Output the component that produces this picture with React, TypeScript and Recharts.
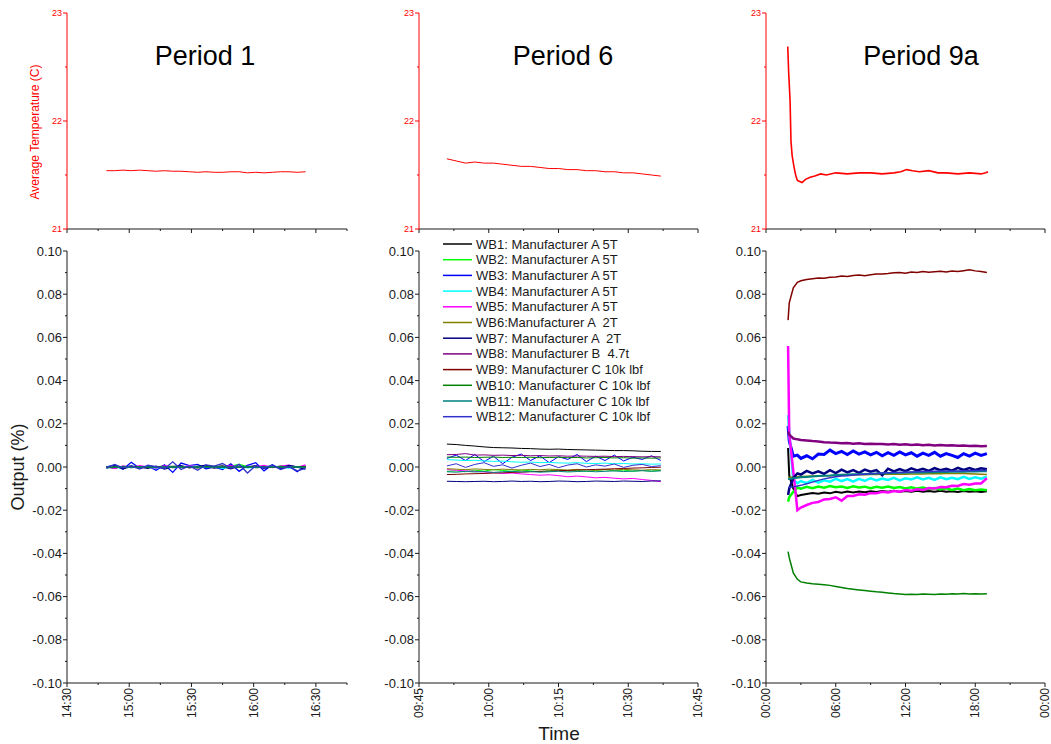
import React from "react";
import { Line, LineChart, XAxis, YAxis } from "recharts";

// ---- series / legend ----
const SERIES_NAMES = [
  "WB1: Manufacturer A 5T",
  "WB2: Manufacturer A 5T",
  "WB3: Manufacturer A 5T",
  "WB4: Manufacturer A 5T",
  "WB5: Manufacturer A 5T",
  "WB6:Manufacturer A  2T",
  "WB7: Manufacturer A  2T",
  "WB8: Manufacturer B  4.7t",
  "WB9: Manufacturer C 10k lbf",
  "WB10: Manufacturer C 10k lbf",
  "WB11: Manufacturer C 10k lbf",
  "WB12: Manufacturer C 10k lbf",
];
const SERIES_COLORS = [
  "#000000",
  "#00FF00",
  "#0000FF",
  "#00FFFF",
  "#FF00FF",
  "#808000",
  "#000080",
  "#800080",
  "#800000",
  "#008000",
  "#008080",
  "#3333CC",
];

const PERIOD_TITLES = ["Period 1", "Period 6", "Period 9a"];

// ---- ticks ----
const TEMP_TICKS = [21, 21.5, 22, 22.5, 23];
const TEMP_MAJOR = [21, 22, 23];
const OUTPUT_TICKS = [
  -0.1, -0.09, -0.08, -0.07, -0.06, -0.05, -0.04, -0.03, -0.02, -0.01, 0,
  0.01, 0.02, 0.03, 0.04, 0.05, 0.06, 0.07, 0.08, 0.09, 0.1,
];
const OUTPUT_MAJOR = [-0.1, -0.08, -0.06, -0.04, -0.02, 0, 0.02, 0.04, 0.06, 0.08, 0.1];

// period 1 / 6 in minutes after midnight, period 9a in hours
const P1_XTICKS = [870, 885, 900, 915, 930, 945, 960, 975, 990, 1005];
const P1_XMAJOR = [870, 900, 930, 960, 990];
const P2_XTICKS = [585, 592.5, 600, 607.5, 615, 622.5, 630, 637.5, 645];
const P2_XMAJOR = [585, 600, 615, 630, 645];
const P3_XTICKS = [0, 3, 6, 9, 12, 15, 18, 21, 24];
const P3_XMAJOR = [0, 6, 12, 18, 24];

// ---- Period 1 ----
const P1_TIME = [
  889, 893, 897, 901, 905, 909, 913, 917, 921, 925, 929, 933, 937, 941, 945,
  949, 953, 957, 961, 965, 969, 973, 977, 981, 985,
];
const P1_TEMP = [
  21.54, 21.54, 21.545, 21.54, 21.545, 21.54, 21.535, 21.54, 21.535, 21.535,
  21.53, 21.525, 21.53, 21.525, 21.525, 21.53, 21.53, 21.52, 21.525, 21.52,
  21.525, 21.53, 21.53, 21.525, 21.53,
];
const P1_OUTPUT = [
  [0, -0.0005, 0.0003, 0, -0.0004, 0.0002, 0, 0.0004, -0.0003, 0.0001, 0, -0.0004, 0.0003, 0, 0.0005, -0.0002, 0.0001, 0.0003, -0.0003, 0, 0.0002, -0.0004, 0.0001, 0.0002, 0],
  [-0.0003, 0.0002, -0.0001, 0.0004, 0, -0.0003, 0.0002, 0, 0.0003, -0.0002, 0.0001, 0.0003, -0.0001, 0.0002, 0, 0.0004, 0.0012, 0.0002, -0.0001, 0.0003, 0, 0.0002, 0.0004, 0.0001, 0.0003],
  [0, 0.0008, -0.001, 0.0022, -0.0006, 0.0004, -0.0015, 0.001, -0.0025, 0.0018, 0.0006, 0.0012, -0.0008, 0, -0.0012, 0.0015, -0.002, 0.0008, 0.002, -0.0018, 0.001, -0.001, 0.0004, -0.0022, 0.0006],
  [-0.0004, 0, -0.0006, 0.0003, -0.0002, 0, -0.0005, 0.0002, 0, -0.0003, 0.0004, 0, -0.0002, 0.0003, -0.0006, 0, 0.0002, -0.0004, 0, 0.0003, -0.0002, 0, -0.0005, 0.0002, 0],
  [0.0002, -0.0006, 0.0004, -0.0003, 0.0006, 0, -0.0004, 0.0005, 0.0002, -0.0002, 0.0006, 0, 0.0004, -0.0003, 0.0002, 0.0006, -0.0002, 0.0003, 0, 0.0007, -0.0003, 0.0004, 0.0008, -0.0002, 0.001],
  [-0.0002, 0.0001, -0.0003, 0, 0.0002, -0.0002, 0.0001, -0.0001, 0.0003, 0, -0.0002, 0.0002, 0, -0.0003, 0.0001, 0, 0.0002, -0.0002, 0.0001, 0, -0.0001, 0.0002, 0, -0.0002, 0.0001],
  [-0.0005, 0.0005, -0.0008, 0.0003, 0, -0.0006, 0.0004, -0.001, 0.0002, 0.0006, -0.0004, 0.0003, 0.0008, -0.0005, 0.0002, -0.0008, 0.0004, 0, 0.0006, -0.0006, 0.0003, -0.0004, 0.0007, 0, -0.001],
  [0.0001, -0.0002, 0.0003, 0, -0.0001, 0.0002, -0.0003, 0.0001, 0, 0.0003, -0.0002, 0.0001, 0.0002, -0.0001, 0, 0.0003, -0.0002, 0.0001, 0.0002, 0, -0.0001, 0.0003, 0, 0.0002, 0.0001],
  [0, 0.0002, -0.0002, 0.0001, -0.0001, 0.0002, 0, -0.0003, 0.0001, 0, 0.0002, -0.0001, 0, 0.0003, -0.0001, 0.0001, 0, -0.0002, 0.0002, 0, 0.0001, -0.0001, 0.0002, 0, 0.0002],
  [-0.0001, 0.0001, 0, -0.0002, 0.0002, 0, 0.0001, -0.0002, 0, 0.0002, -0.0001, 0, 0.0002, -0.0001, 0.0001, -0.0002, 0, 0.0002, -0.0001, 0.0001, 0, 0.0003, -0.0001, 0.0001, 0],
  [0.0002, -0.0001, 0.0001, -0.0003, 0, 0.0002, -0.0002, 0, 0.0001, -0.0001, 0.0003, 0, -0.0002, 0.0001, 0, -0.0001, 0.0002, 0, -0.0002, 0.0001, 0.0002, -0.0001, 0, 0.0001, -0.0002],
  [-0.0003, 0.0012, -0.0004, 0.0006, -0.001, 0.0008, 0.0002, -0.0008, 0.0024, -0.0012, 0.0005, -0.0015, 0.001, 0.0004, 0.0016, -0.0006, 0.0012, -0.0028, 0.0006, -0.0004, 0.001, -0.0012, 0.0002, -0.0018, -0.0006],
];

// ---- Period 6 ----
const P2_TIME = [
  591, 593, 595, 597, 599, 601, 603, 605, 607, 609, 611, 613, 615, 617, 619,
  621, 623, 625, 627, 629, 631, 633, 635, 637,
];
const P2_TEMP = [
  21.65, 21.63, 21.61, 21.62, 21.61, 21.61, 21.6, 21.59, 21.58, 21.58, 21.57,
  21.56, 21.56, 21.55, 21.55, 21.54, 21.54, 21.53, 21.53, 21.52, 21.52, 21.51,
  21.5, 21.49,
];
const P2_OUTPUT = [
  [0.0106, 0.0104, 0.01, 0.0097, 0.0093, 0.009, 0.0089, 0.0088, 0.0086, 0.0085, 0.0083, 0.0082, 0.0083, 0.0081, 0.008, 0.0079, 0.0078, 0.0077, 0.0076, 0.0076, 0.0075, 0.0073, 0.0072, 0.0072],
  [-0.002, -0.0018, -0.0022, -0.0015, -0.0019, -0.0012, -0.0016, -0.002, -0.0014, -0.0018, -0.0022, -0.0017, -0.0013, -0.0019, -0.0015, -0.0021, -0.0016, -0.0012, -0.0018, -0.0014, -0.002, -0.0016, -0.0019, -0.0015],
  [0.004, 0.0055, 0.003, 0.0058, 0.0025, 0.005, 0.0015, 0.0045, 0.006, 0.003, 0.0052, 0.002, 0.0048, 0.0035, 0.0058, 0.0025, 0.005, 0.003, 0.0055, 0.0028, 0.0045, 0.0035, 0.0052, 0.003],
  [0.0034, 0.0032, 0.003, 0.0031, 0.0028, 0.0026, 0.0027, 0.0024, 0.0022, 0.0023, 0.002, 0.0021, 0.0019, 0.0018, 0.002, 0.0017, 0.0016, 0.0018, 0.0015, 0.0016, 0.0014, 0.0015, 0.0013, 0.0014],
  [-0.0012, -0.0015, -0.0018, -0.002, -0.0023, -0.0026, -0.003, -0.0028, -0.0032, -0.0035, -0.0038, -0.0036, -0.004, -0.0045, -0.0042, -0.0046, -0.005, -0.0048, -0.0052, -0.0055, -0.0053, -0.0058, -0.0062, -0.0068],
  [-0.0008, -0.001, -0.0012, -0.0009, -0.0011, -0.0013, -0.001, -0.0012, -0.0014, -0.0011, -0.0013, -0.001, -0.0012, -0.0014, -0.0011, -0.0013, -0.0015, -0.0012, -0.0014, -0.0011, -0.0013, -0.0015, -0.0012, -0.0014],
  [-0.0066, -0.0067, -0.0068, -0.0067, -0.0066, -0.0068, -0.0067, -0.0065, -0.0067, -0.0066, -0.0068, -0.0067, -0.0065, -0.0066, -0.0068, -0.0067, -0.0065, -0.0066, -0.0067, -0.0065, -0.0066, -0.0067, -0.0065, -0.0064],
  [0.0057, 0.0058, 0.0062, 0.0055, 0.0056, 0.0054, 0.0055, 0.0053, 0.0054, 0.0052, 0.0053, 0.0051, 0.0052, 0.005, 0.0051, 0.005, 0.0049, 0.005, 0.0048, 0.0049, 0.0048, 0.0047, 0.0048, 0.0047],
  [-0.0035, -0.0034, -0.0032, -0.0031, -0.003, -0.0028, -0.0027, -0.0025, -0.0024, -0.0022, -0.002, -0.0019, -0.0017, -0.0016, -0.0014, -0.0013, -0.0011, -0.001, -0.0008, -0.0007, -0.0005, -0.0004, -0.0002, -0.0001],
  [0.0046, 0.0045, 0.0046, 0.0044, 0.0045, 0.0046, 0.0044, 0.0045, 0.0044, 0.0045, 0.0043, 0.0044, 0.0045, 0.0043, 0.0044, 0.0042, 0.0043, 0.0044, 0.0042, 0.0043, 0.0041, 0.0042, 0.0041, 0.0042],
  [-0.0022, -0.0024, -0.002, -0.0023, -0.0021, -0.0025, -0.0022, -0.002, -0.0023, -0.0021, -0.0024, -0.0022, -0.002, -0.0023, -0.0021, -0.0019, -0.0022, -0.002, -0.0018, -0.0021, -0.0019, -0.0017, -0.002, -0.0018],
  [0.0005, 0.0015, -0.0002, 0.0012, 0.002, 0.0003, 0.001, -0.0005, 0.0008, 0.0018, 0.0002, 0.0012, -0.0003, 0.0009, 0.0015, 0, 0.001, 0.0004, 0.0014, -0.0002, 0.0008, 0.0012, 0.0002, 0.0006],
];

// ---- Period 9a ----
const P3_TEMP_TIME = [
  1.87, 1.95, 2.07, 2.15, 2.25, 2.4, 2.55, 2.7, 2.9, 3.1, 3.4, 3.8, 4.2, 4.7,
  5.2, 6.0, 7.0, 8.0, 9.0, 10.0, 11.0, 11.6, 12.1, 12.6, 13.2, 14.0, 14.8,
  15.5, 16.5, 17.5, 18.5, 18.9, 19.1,
];
const P3_TEMP = [
  22.69, 22.45, 22.19, 21.81, 21.68, 21.58, 21.5, 21.45, 21.44, 21.43, 21.46,
  21.48, 21.49, 21.51, 21.5, 21.52, 21.51, 21.52, 21.52, 21.51, 21.52, 21.53,
  21.55, 21.54, 21.53, 21.54, 21.52, 21.52, 21.51, 21.52, 21.51, 21.52, 21.53,
];
const P3_TIME = [
  1.9, 2.0, 2.35, 2.7, 3.0, 3.5, 4.0, 4.5, 5.0, 5.5, 6.0, 6.5, 7.0, 7.5, 8.0,
  8.5, 9.0, 9.5, 10.0, 10.5, 11.0, 11.5, 12.0, 12.5, 13.0, 13.5, 14.0, 14.5,
  15.0, 15.5, 16.0, 16.5, 17.0, 17.5, 18.0, 18.5, 19.0,
];
const P3_OUTPUT = [
  [0.0088, -0.004, -0.01, -0.0135, -0.013, -0.0125, -0.012, -0.0124, -0.0118, -0.0122, -0.0115, -0.0119, -0.0114, -0.0118, -0.0113, -0.0117, -0.0112, -0.0116, -0.0111, -0.0115, -0.011, -0.0114, -0.0111, -0.0115, -0.011, -0.0114, -0.0111, -0.0115, -0.011, -0.0114, -0.0112, -0.0116, -0.0111, -0.0115, -0.0112, -0.0116, -0.0112],
  [-0.016, -0.014, -0.0115, -0.0095, -0.01, -0.0092, -0.0098, -0.009, -0.0096, -0.0088, -0.0094, -0.009, -0.0097, -0.0089, -0.0095, -0.0091, -0.0098, -0.0092, -0.0096, -0.009, -0.0097, -0.0093, -0.0099, -0.0094, -0.01, -0.0095, -0.0102, -0.0097, -0.0104, -0.0099, -0.0106, -0.01, -0.0107, -0.0102, -0.0108, -0.0104, -0.0108],
  [0.019, 0.012, 0.005, 0.0055, 0.004, 0.0052, 0.0038, 0.006, 0.0058, 0.0078, 0.0062, 0.0072, 0.0058, 0.0074, 0.006, 0.007, 0.0056, 0.0068, 0.0052, 0.0066, 0.0054, 0.007, 0.0056, 0.0066, 0.005, 0.0064, 0.0054, 0.0068, 0.005, 0.0062, 0.0054, 0.0044, 0.0062, 0.005, 0.0064, 0.0054, 0.0062],
  [0.024, 0.016, -0.006, -0.0075, -0.0065, -0.0075, -0.006, -0.0072, -0.0062, -0.0068, -0.0055, -0.0066, -0.0056, -0.0068, -0.0055, -0.0064, -0.0052, -0.0062, -0.0054, -0.006, -0.005, -0.0062, -0.0052, -0.0058, -0.0048, -0.0058, -0.005, -0.006, -0.0048, -0.0056, -0.005, -0.0056, -0.0046, -0.0055, -0.0048, -0.0054, -0.0045],
  [0.056, 0.015, -0.002, -0.02, -0.0188, -0.0176, -0.0166, -0.0162, -0.015, -0.0148, -0.014, -0.0156, -0.0134, -0.0134, -0.0126, -0.0128, -0.0121, -0.0122, -0.0115, -0.0118, -0.0111, -0.0114, -0.0107, -0.011, -0.0103, -0.0106, -0.0097, -0.01, -0.0093, -0.0094, -0.0087, -0.0088, -0.0079, -0.0082, -0.0076, -0.0076, -0.0052],
  [-0.005, -0.0048, -0.0046, -0.0045, -0.0044, -0.0043, -0.0042, -0.0041, -0.004, -0.004, -0.0039, -0.0038, -0.0038, -0.0037, -0.0036, -0.0036, -0.0035, -0.0035, -0.0034, -0.0034, -0.0033, -0.0033, -0.0033, -0.0032, -0.0032, -0.0032, -0.0031, -0.0031, -0.0031, -0.003, -0.003, -0.003, -0.003, -0.0031, -0.0032, -0.0033, -0.0035],
  [-0.013, -0.01, -0.005, -0.003, -0.0035, -0.0018, -0.003, -0.002, -0.0032, -0.0015, -0.0028, -0.0012, -0.0025, -0.0014, -0.0027, -0.0012, -0.0022, -0.0014, -0.0038, -0.0008, -0.002, -0.001, -0.0019, -0.0006, -0.0016, -0.0008, -0.0018, -0.0005, -0.0015, -0.0008, -0.0017, -0.0004, -0.0014, -0.0005, -0.0014, -0.0006, -0.001],
  [0.0165, 0.015, 0.0132, 0.0128, 0.0125, 0.0123, 0.012, 0.0118, 0.0115, 0.0113, 0.0112, 0.011, 0.0111, 0.0108, 0.011, 0.0107, 0.0108, 0.0106, 0.0107, 0.0104, 0.0106, 0.0103, 0.0105, 0.0102, 0.0104, 0.0101, 0.0103, 0.01, 0.0102, 0.0099, 0.0101, 0.0098, 0.01, 0.0097, 0.0098, 0.0096, 0.0097],
  [0.068, 0.076, 0.083, 0.0855, 0.0862, 0.0868, 0.0872, 0.0875, 0.0874, 0.0878, 0.088, 0.0884, 0.0882, 0.0887, 0.0889, 0.0886, 0.089, 0.0893, 0.0894, 0.0896, 0.0899, 0.0901, 0.0897, 0.0903, 0.0901, 0.0905, 0.0902, 0.0904, 0.0906, 0.0903, 0.0907, 0.0905, 0.0909, 0.0913, 0.0908, 0.0905, 0.09],
  [-0.0392, -0.042, -0.049, -0.052, -0.0532, -0.0537, -0.0541, -0.0543, -0.0545, -0.0548, -0.0553, -0.0558, -0.0563, -0.0566, -0.0569, -0.0572, -0.0575, -0.0578, -0.058, -0.0583, -0.0586, -0.0588, -0.059, -0.0589, -0.059, -0.0588, -0.0589, -0.059, -0.0588, -0.0589, -0.0587, -0.0588, -0.0586, -0.0588, -0.0587, -0.0588, -0.0587],
  [-0.0055, -0.0055, -0.0052, -0.005, -0.0048, -0.0046, -0.0044, -0.0042, -0.004, -0.0039, -0.0037, -0.0036, -0.0035, -0.0034, -0.0033, -0.0032, -0.0031, -0.003, -0.0029, -0.0029, -0.0028, -0.0027, -0.0027, -0.0026, -0.0025, -0.0025, -0.0024, -0.0024, -0.0023, -0.0023, -0.0022, -0.0022, -0.0022, -0.0021, -0.0021, -0.002, -0.002],
  [-0.0095, -0.0095, -0.0092, -0.0088, -0.0085, -0.0078, -0.007, -0.0062, -0.0055, -0.005, -0.0045, -0.0042, -0.004, -0.0037, -0.0035, -0.0033, -0.0031, -0.003, -0.0028, -0.0027, -0.0026, -0.0025, -0.0024, -0.0023, -0.0022, -0.0021, -0.0021, -0.002, -0.0019, -0.0019, -0.0018, -0.0018, -0.0017, -0.0017, -0.0016, -0.0016, -0.0015],
];

// ---- layout ----
const FONT = "'Liberation Sans', Arial, sans-serif";
const RED = "#FF0000";
const INK = "#1a1a1a";
const TOP_H = 236; // svg height of temperature charts
const BOT_TOP = 236;
const BOT_H = 508;
const COLS = [
  { left: 0, axisX: 67, right: 347, width: 360 },
  { left: 360, axisX: 419, right: 698, width: 350 },
  { left: 710, axisX: 766, right: 1045, width: 341 },
];

const near = (list: number[], v: number) => list.some((m) => Math.abs(m - v) < 1e-9);
const pad2 = (n: number) => String(n).padStart(2, "0");
const fmtMinutes = (v: number) => `${pad2(Math.floor(v / 60))}:${pad2(v % 60)}`;
const fmtHours = (v: number) => `${pad2(v % 24)}:00`;

const xTick = (major: number[], fmt?: (v: number) => string) => (props: any) => {
  const { x, y, payload } = props;
  const isMajor = near(major, payload.value);
  return (
    <g>
      <line x1={x} x2={x} y1={y} y2={y + (isMajor ? 4 : 2)} stroke={INK} />
      {fmt && isMajor && (
        <text
          x={x}
          y={y + 5}
          transform={`rotate(-90, ${x}, ${y + 5})`}
          textAnchor="end"
          dy="0.35em"
          fontSize={12}
          fontFamily={FONT}
          fill={INK}
        >
          {fmt(payload.value)}
        </text>
      )}
    </g>
  );
};

const yTick =
  (major: number[], color: string, fontSize: number, fmt: (v: number) => string) =>
  (props: any) => {
    const { x, y, payload } = props;
    const isMajor = near(major, payload.value);
    return (
      <g>
        <line x1={x - (isMajor ? 4 : 2)} x2={x} y1={y} y2={y} stroke={color} />
        {isMajor && (
          <text
            x={x - 5}
            y={y}
            dy="0.35em"
            textAnchor="end"
            fontSize={fontSize}
            fontFamily={FONT}
            fill={color}
          >
            {fmt(payload.value)}
          </text>
        )}
      </g>
    );
  };

type PanelProps = {
  col: number;
  domain: [number, number];
  ticks: number[];
  major: number[];
  fmt: (v: number) => string;
};

const TempChart = ({
  col,
  domain,
  ticks,
  major,
  times,
  temps,
  width,
}: PanelProps & { times: number[]; temps: number[]; width: number }) => {
  const c = COLS[col];
  const data = times.map((t, i) => ({ t, temp: temps[i] }));
  return (
    <div style={{ position: "absolute", left: c.left, top: 0 }}>
      <LineChart
        width={c.width}
        height={TOP_H}
        data={data}
        margin={{ top: 13, right: c.width - (c.right - c.left), bottom: 0, left: 0 }}
      >
        <XAxis
          type="number"
          dataKey="t"
          domain={domain}
          ticks={ticks}
          interval={0}
          height={7}
          tickSize={0}
          tickMargin={0}
          tickLine={false}
          axisLine={{ stroke: INK }}
          tick={xTick(major)}
        />
        <YAxis
          type="number"
          domain={[21, 23]}
          ticks={TEMP_TICKS}
          interval={0}
          width={c.axisX - c.left}
          tickSize={0}
          tickMargin={0}
          tickLine={false}
          axisLine={{ stroke: RED }}
          tick={yTick(TEMP_MAJOR, RED, 9, (v) => String(v))}
        />
        <Line
          dataKey="temp"
          stroke={RED}
          strokeWidth={width}
          dot={false}
          activeDot={false}
          isAnimationActive={false}
        />
      </LineChart>
    </div>
  );
};

const OutputChart = ({
  col,
  domain,
  ticks,
  major,
  fmt,
  times,
  output,
  widths,
}: PanelProps & { times: number[]; output: number[][]; widths: number[] }) => {
  const c = COLS[col];
  const data = times.map((t, i) => {
    const row: Record<string, number> = { t };
    output.forEach((s, k) => {
      row[`wb${k}`] = s[i];
    });
    return row;
  });
  return (
    <div style={{ position: "absolute", left: c.left, top: BOT_TOP }}>
      <LineChart
        width={c.width}
        height={BOT_H}
        data={data}
        margin={{ top: 15, right: c.width - (c.right - c.left), bottom: 0, left: 0 }}
      >
        <XAxis
          type="number"
          dataKey="t"
          domain={domain}
          ticks={ticks}
          interval={0}
          height={61}
          tickSize={0}
          tickMargin={0}
          tickLine={false}
          axisLine={{ stroke: INK }}
          tick={xTick(major, fmt)}
        />
        <YAxis
          type="number"
          domain={[-0.1, 0.1]}
          ticks={OUTPUT_TICKS}
          interval={0}
          width={c.axisX - c.left}
          tickSize={0}
          tickMargin={0}
          tickLine={false}
          axisLine={{ stroke: INK }}
          tick={yTick(OUTPUT_MAJOR, INK, 13, (v) => v.toFixed(2))}
        />
        {SERIES_NAMES.map((name, k) => (
          <Line
            key={name + k}
            name={name}
            dataKey={`wb${k}`}
            stroke={SERIES_COLORS[k]}
            strokeWidth={widths[k]}
            dot={false}
            activeDot={false}
            isAnimationActive={false}
          />
        ))}
      </LineChart>
    </div>
  );
};

const Overlay = () => (
  <svg
    width={1051}
    height={744}
    style={{ position: "absolute", left: 0, top: 0, pointerEvents: "none" }}
  >
    {PERIOD_TITLES.map((title, i) => (
      <text
        key={title}
        x={[205, 563, 921][i]}
        y={65}
        textAnchor="middle"
        fontSize={27}
        fontFamily={FONT}
        fill="#000"
      >
        {title}
      </text>
    ))}
    <text
      x={39}
      y={132}
      transform="rotate(-90, 39, 132)"
      textAnchor="middle"
      fontSize={12}
      fontFamily={FONT}
      fill={RED}
    >
      Average Temperature (C)
    </text>
    <text
      x={24}
      y={467}
      transform="rotate(-90, 24, 467)"
      textAnchor="middle"
      fontSize={18}
      fontFamily={FONT}
      fill={INK}
    >
      Output (%)
    </text>
    <text x={559} y={740} textAnchor="middle" fontSize={19} fontFamily={FONT} fill={INK}>
      Time
    </text>
    {SERIES_NAMES.map((name, i) => {
      const y = 244 + i * 15.7;
      return (
        <g key={name + i}>
          <line x1={443} x2={472} y1={y} y2={y} stroke={SERIES_COLORS[i]} strokeWidth={1.5} />
          <text
            x={476}
            y={y}
            dy="0.35em"
            fontSize={13}
            fontFamily={FONT}
            fill={INK}
            style={{ whiteSpace: "pre" }}
          >
            {name}
          </text>
        </g>
      );
    })}
  </svg>
);

const P1_WIDTHS = [1.3, 1.3, 1.3, 1.3, 1.3, 1.3, 1.3, 1.3, 1.3, 1.3, 1.3, 1.3];
const P2_WIDTHS = [1, 1, 1, 1, 1, 1, 1, 1, 1, 1, 1, 1];
const P3_WIDTHS = [2, 2.5, 3, 2.5, 2.5, 1.5, 2.5, 2.5, 1.5, 1.5, 2, 1.5];

export default function App() {
  return (
    <div
      style={{
        position: "absolute",
        left: 0,
        top: 0,
        width: 1051,
        height: 744,
        background: "#fff",
        fontFamily: FONT,
      }}
    >
      <TempChart col={0} domain={[870, 1005]} ticks={P1_XTICKS} major={P1_XMAJOR} fmt={fmtMinutes} times={P1_TIME} temps={P1_TEMP} width={1} />
      <TempChart col={1} domain={[585, 645]} ticks={P2_XTICKS} major={P2_XMAJOR} fmt={fmtMinutes} times={P2_TIME} temps={P2_TEMP} width={1} />
      <TempChart col={2} domain={[0, 24]} ticks={P3_XTICKS} major={P3_XMAJOR} fmt={fmtHours} times={P3_TEMP_TIME} temps={P3_TEMP} width={1.6} />
      <OutputChart col={0} domain={[870, 1005]} ticks={P1_XTICKS} major={P1_XMAJOR} fmt={fmtMinutes} times={P1_TIME} output={P1_OUTPUT} widths={P1_WIDTHS} />
      <OutputChart col={1} domain={[585, 645]} ticks={P2_XTICKS} major={P2_XMAJOR} fmt={fmtMinutes} times={P2_TIME} output={P2_OUTPUT} widths={P2_WIDTHS} />
      <OutputChart col={2} domain={[0, 24]} ticks={P3_XTICKS} major={P3_XMAJOR} fmt={fmtHours} times={P3_TIME} output={P3_OUTPUT} widths={P3_WIDTHS} />
      <Overlay />
    </div>
  );
}
